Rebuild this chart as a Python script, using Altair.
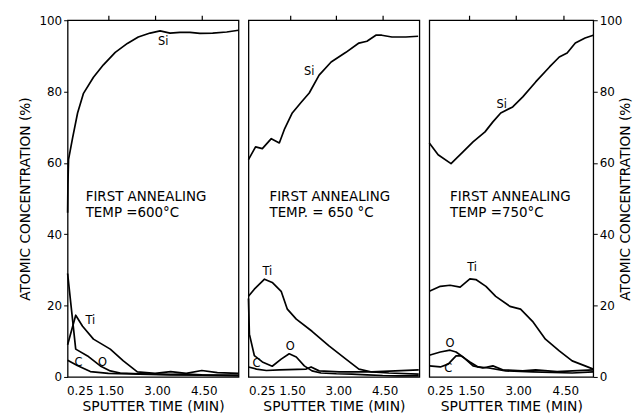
import altair as alt
import pandas as pd

FONT = "DejaVu Sans"
XTICKS = [0.25, 1.5, 3.0, 4.5]
TOPTICKS = [1.5, 3.0, 4.5]
YTICKS = [0, 20, 40, 60, 80, 100]

# ---- 600 C ----
SI_T_600 = [0.19, 0.20, 0.22, 0.35, 0.51, 0.70, 1.02, 1.34, 1.72, 2.11, 2.46, 2.84, 3.16, 3.48, 3.80, 4.12, 4.44, 4.85, 5.30, 5.68]
SI_V_600 = [46, 54, 61, 67, 74, 79.5, 84, 87.5, 91, 93.5, 95.3, 96.4, 97, 96.4, 96.6, 96.6, 96.3, 96.4, 96.7, 97.2]
TI_T_600 = [0.19, 0.45, 0.67, 1.02, 1.56, 1.98, 2.43, 3.0, 3.5, 4.0, 4.5, 5.0, 5.68]
TI_V_600 = [9, 17.3, 14.2, 10.6, 7.8, 4.5, 1.4, 1.0, 1.5, 1.0, 1.8, 1.2, 1.0]
O_T_600 = [0.19, 0.30, 0.45, 0.83, 1.24, 1.56, 1.88, 2.5, 3.0, 3.5, 4.0, 4.5, 5.0, 5.68]
O_V_600 = [29, 20, 7.8, 5.9, 3.1, 1.7, 1.1, 0.9, 0.8, 0.7, 0.8, 0.6, 0.5, 0.5]
C_T_600 = [0.19, 0.5, 0.92, 1.5, 2.5, 3.5, 4.5, 5.68]
C_V_600 = [4.7, 3.2, 1.5, 1.0, 0.8, 0.6, 0.5, 0.3]

# ---- 650 C ----
SI_T_650 = [0.15, 0.38, 0.60, 0.89, 1.15, 1.31, 1.57, 1.86, 2.12, 2.44, 2.83, 3.31, 3.73, 3.99, 4.28, 4.47, 4.80, 5.25, 5.65]
SI_V_650 = [60.9, 64.5, 64, 66.8, 65.6, 69.3, 74, 77, 79.6, 84.6, 88.3, 91, 93.6, 94.1, 95.8, 95.8, 95.3, 95.3, 95.5]
TI_T_650 = [0.15, 0.34, 0.67, 0.92, 1.21, 1.41, 1.70, 2.21, 2.76, 3.31, 3.73, 4.15, 4.70, 5.67]
TI_V_650 = [22.6, 24.6, 27.4, 26.5, 24, 19, 16.2, 12.8, 8.7, 5, 2.2, 1.4, 1.1, 0.8]
O_T_650 = [0.15, 0.18, 0.34, 0.60, 0.92, 1.21, 1.47, 1.70, 1.96, 2.21, 2.50, 3.0, 3.5, 4.0, 4.5, 5.0, 5.67]
O_V_650 = [22, 12, 6, 4.2, 3.0, 5, 6.5, 5.6, 3.1, 1.7, 1.1, 0.9, 0.8, 0.6, 0.4, 0.3, 0.3]
C_T_650 = [0.15, 0.41, 0.73, 1.15, 2.02, 2.18, 2.44, 3.09, 4.15, 5.67]
C_V_650 = [2.8, 2.2, 1.8, 2.0, 2.2, 2.8, 1.7, 1.4, 1.4, 2.0]

# ---- 750 C ----
SI_T_750 = [0.24, 0.52, 0.93, 1.31, 1.63, 2.01, 2.26, 2.51, 2.89, 3.21, 3.62, 4.06, 4.37, 4.62, 4.88, 5.19, 5.45]
SI_V_750 = [65.6, 62.3, 59.8, 63.1, 65.9, 68.7, 71.5, 74, 75.7, 78.5, 82.7, 86.9, 89.7, 90.8, 93.6, 95, 95.8]
TI_T_750 = [0.24, 0.59, 0.90, 1.22, 1.53, 1.72, 2.04, 2.35, 2.80, 3.14, 3.52, 3.93, 4.37, 4.78, 5.19, 5.45]
TI_V_750 = [24, 25.4, 25.7, 25.2, 27.5, 27.3, 25.4, 22.6, 19.8, 19, 15.6, 10.6, 7.3, 4.5, 3.1, 2.2]
O_T_750 = [0.24, 0.59, 0.90, 1.09, 1.31, 1.63, 1.94, 2.26, 2.57, 3.21, 3.62, 4.30, 5.45]
O_V_750 = [6.1, 7.0, 7.5, 7.0, 5.6, 3.1, 2.5, 3.1, 2.0, 1.7, 2.0, 1.5, 2.0]
C_T_750 = [0.24, 0.59, 0.84, 1.09, 1.25, 1.53, 1.79, 2.13, 2.67, 3.52, 4.78, 5.45]
C_V_750 = [3.1, 2.8, 3.6, 5.9, 5.9, 4.2, 2.8, 2.5, 1.7, 1.4, 1.1, 1.4]

# element label positions (time, value)
LABELS = ["Si", "Ti", "O", "C"]
LAB_T_600 = [3.26, 0.92, 1.31, 0.54]
LAB_V_600 = [93.8, 15.6, 4.0, 4.0]
LAB_T_650 = [2.12, 0.76, 1.50, 0.41]
LAB_V_650 = [85.5, 29.3, 8.4, 3.6]
LAB_T_750 = [2.54, 1.60, 0.90, 0.84]
LAB_V_750 = [76.3, 30.4, 9.2, 2.3]

NOTE_1 = "FIRST ANNEALING"
NOTE_2 = ["TEMP =600°C", "TEMP. = 650 °C", "TEMP =750°C"]
NOTE_T = [0.77, 0.83, 0.90]
NOTE_V = [50.3, 46.0]

DOMAINS = [[0.19, 5.68], [0.15, 5.69], [0.24, 5.45]]
WIDTHS = [172, 172, 165]
HEIGHT = 359

YTITLE = "ATOMIC CONCENTRATION (%)"
XTITLE = "SPUTTER TIME (MIN)"


def series_df(parts):
    rows = []
    for name, ts, vs in parts:
        for t, v in zip(ts, vs):
            rows.append({"el": name, "t": t, "v": v})
    return pd.DataFrame(rows)


def panel(i, parts, lab_t, lab_v, yaxis):
    xs = alt.Scale(domain=DOMAINS[i], nice=False, zero=False)
    ys = alt.Scale(domain=[0, 100], nice=False)
    xaxis = alt.Axis(
        values=XTICKS, format=".2f", title=XTITLE, ticks=False, grid=False,
        domain=False, labelPadding=9, titlePadding=3, labelFontSize=12,
        titleFontSize=14, titleFontWeight="normal", labelOverlap=False,
        labelAlign={"condition": {"test": "datum.value < 0.3", "value": "left"}, "value": "center"},
        labelOffset={"condition": {"test": "datum.value < 0.3", "value": -3}, "value": 2},
    )
    topaxis = alt.Axis(orient="top", values=TOPTICKS, labels=False, title=None, grid=False,
                       domain=False, tickSize=5, tickWidth=1.2, tickColor="black")
    df = series_df(parts)
    lines = alt.Chart(df).mark_line(color="black", strokeWidth=1.7, strokeJoin="round").encode(
        x=alt.X("t:Q", scale=xs, axis=xaxis),
        y=alt.Y("v:Q", scale=ys, axis=yaxis),
        detail="el:N",
        order="t:Q",
    )
    top = alt.Chart(pd.DataFrame({"t": TOPTICKS, "v": [100.0] * 3})).mark_point(opacity=0).encode(
        x=alt.X("t:Q", scale=xs, axis=topaxis),
        y=alt.Y("v:Q", scale=ys, axis=yaxis),
    )
    lab = alt.Chart(pd.DataFrame({"t": lab_t, "v": lab_v, "s": LABELS})).mark_text(
        font=FONT, fontSize=11.5, color="black", align="center", baseline="middle"
    ).encode(x=alt.X("t:Q", scale=xs, axis=None), y=alt.Y("v:Q", scale=ys, axis=yaxis), text="s:N")
    note = alt.Chart(pd.DataFrame({"t": [NOTE_T[i]] * 2, "v": NOTE_V, "s": [NOTE_1, NOTE_2[i]]})).mark_text(
        font=FONT, fontSize=13.5, color="black", align="left", baseline="middle"
    ).encode(x=alt.X("t:Q", scale=xs, axis=None), y=alt.Y("v:Q", scale=ys, axis=yaxis), text="s:N")
    return alt.layer(lines, top, lab, note).resolve_axis(x="independent").properties(
        width=WIDTHS[i], height=HEIGHT)


left_axis = alt.Axis(values=YTICKS, title=YTITLE, grid=False, domain=False, tickSize=4,
                     labelPadding=2, titlePadding=6, labelFontSize=12, titleFontSize=13.8,
                     titleFontWeight="normal", tickColor="black")
right_axis = alt.Axis(orient="right", values=YTICKS, title=YTITLE, grid=False, domain=False,
                      tickSize=4, labelPadding=2, titlePadding=11, labelFontSize=12,
                      titleFontSize=13.8, titleFontWeight="normal", titleAngle=270,
                      tickColor="black")

p1 = panel(0, [("Si", SI_T_600, SI_V_600), ("Ti", TI_T_600, TI_V_600),
               ("O", O_T_600, O_V_600), ("C", C_T_600, C_V_600)],
           LAB_T_600, LAB_V_600, left_axis)
p2 = panel(1, [("Si", SI_T_650, SI_V_650), ("Ti", TI_T_650, TI_V_650),
               ("O", O_T_650, O_V_650), ("C", C_T_650, C_V_650)],
           LAB_T_650, LAB_V_650, None)
p3 = panel(2, [("Si", SI_T_750, SI_V_750), ("Ti", TI_T_750, TI_V_750),
               ("O", O_T_750, O_V_750), ("C", C_T_750, C_V_750)],
           LAB_T_750, LAB_V_750, right_axis)

chart = alt.hconcat(p1, p2, p3, spacing=10, bounds="flush").properties(
    padding={"left": 10, "top": 4, "right": 0, "bottom": 0},
    background="white",
).configure_view(stroke="black", strokeWidth=1.3).configure_axis(
    labelFont=FONT, titleFont=FONT, labelColor="black", titleColor="black"
)

chart.save("out.html", embed_options={"renderer": "svg", "actions": False})
